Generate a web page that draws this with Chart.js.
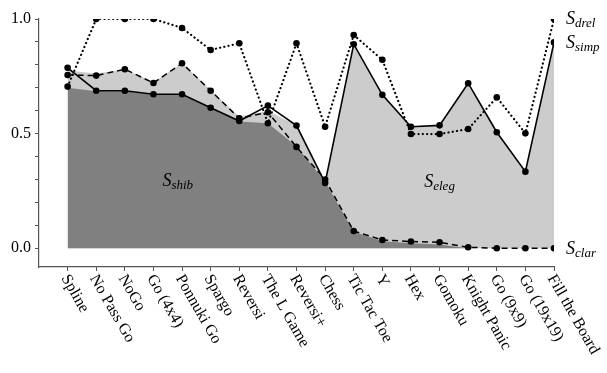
<!DOCTYPE html>
<html>
<head>
<meta charset="utf-8">
<script src="https://cdn.jsdelivr.net/npm/chart.js@4"></script>
<style>
  html, body { margin: 0; padding: 0; background: #fff; }
  #wrap { width: 607px; height: 373px; }
</style>
</head>
<body>
<div id="wrap"><canvas id="chart" width="607" height="373"></canvas></div>
<script>
// games along the x axis
const games = ['Spline', 'No Pass Go', 'NoGo', 'Go (4x4)', 'Ponnuki Go', 'Spargo', 'Reversi', 'The L Game',
  'Reversi+', 'Chess', 'Tic Tac Toe', 'Y', 'Hex', 'Gomoku', 'Knight Panic', 'Go (9x9)', 'Go (19x19)', 'Fill the Board'];

// measures
const drel = [0.705, 1.0, 1.0, 1.0, 0.961, 0.865, 0.894, 0.545, 0.894, 0.530, 0.930, 0.822, 0.498, 0.498, 0.520, 0.658, 0.501, 1.0];
const simp = [0.787, 0.687, 0.687, 0.672, 0.672, 0.613, 0.555, 0.622, 0.535, 0.285, 0.890, 0.669, 0.530, 0.536, 0.720, 0.506, 0.334, 0.898];
const clar = [0.756, 0.753, 0.781, 0.721, 0.807, 0.687, 0.567, 0.593, 0.442, 0.300, 0.075, 0.036, 0.029, 0.026, 0.004, 0.0, 0.0, 0.0];
const shib = [0.700, 0.685, 0.685, 0.670, 0.670, 0.612, 0.553, 0.545, 0.445, 0.290, 0.072, 0.030, 0.022, 0.016, 0.0, 0.0, 0.0, 0.0];
const eleg = [0.775, 0.762, 0.781, 0.725, 0.807, 0.690, 0.574, 0.600, 0.535, 0.290, 0.890, 0.669, 0.530, 0.536, 0.720, 0.506, 0.334, 0.898];

const yTicks = [0, 0.1, 0.2, 0.3, 0.4, 0.5, 0.6, 0.7, 0.8, 0.9, 1.0];
const yLabels = [0, 0.5, 1.0];

const serif = '"Liberation Serif", "DejaVu Serif", serif';

function pts(arr) {
  return arr.map((v, i) => ({ x: i, y: v }));
}

// draws the rotated game names and the S labels
const textPlugin = {
  id: 'texts',
  afterDraw(chart) {
    const ctx = chart.ctx;
    const xs = chart.scales.x;
    const ys = chart.scales.y;
    const bottom = chart.chartArea.bottom;
    ctx.save();
    ctx.fillStyle = '#000';
    ctx.font = '16px ' + serif;
    ctx.textAlign = 'left';
    ctx.textBaseline = 'middle';
    for (let i = 0; i < games.length; i++) {
      ctx.save();
      ctx.translate(xs.getPixelForValue(i) - 3, bottom + 9);
      ctx.rotate(Math.PI / 3);
      ctx.fillText(games[i], 0, 0);
      ctx.restore();
    }
    ctx.restore();

    function sLabel(sub, x, y, align) {
      ctx.save();
      ctx.fillStyle = '#000';
      ctx.textBaseline = 'alphabetic';
      ctx.font = 'italic 18px ' + serif;
      const w1 = ctx.measureText('S').width;
      ctx.font = 'italic 13px ' + serif;
      const w2 = ctx.measureText(sub).width;
      let left = x;
      if (align === 'center') left = x - (w1 + w2) / 2;
      ctx.font = 'italic 18px ' + serif;
      ctx.fillText('S', left, y);
      ctx.font = 'italic 13px ' + serif;
      ctx.fillText(sub, left + w1, y + 3);
      ctx.restore();
    }
    const last = games.length - 1;
    const rx = xs.getPixelForValue(last) + 12;
    sLabel('drel', rx, ys.getPixelForValue(drel[last]) + 5, 'left');
    sLabel('simp', rx, ys.getPixelForValue(simp[last]) + 6, 'left');
    sLabel('clar', rx, ys.getPixelForValue(clar[last]) + 6, 'left');
    sLabel('shib', xs.getPixelForValue(3.85), ys.getPixelForValue(0.27), 'center');
    sLabel('eleg', xs.getPixelForValue(13.0), ys.getPixelForValue(0.265), 'center');
  }
};

new Chart(document.getElementById('chart'), {
  type: 'line',
  data: {
    datasets: [
      {
        label: 'eleg', data: pts(eleg), order: 5,
        fill: 'origin', backgroundColor: '#cccccc', borderWidth: 0, pointRadius: 0, tension: 0
      },
      {
        label: 'shib', data: pts(shib), order: 4,
        fill: 'origin', backgroundColor: '#808080', borderWidth: 0, pointRadius: 0, tension: 0
      },
      {
        label: 'drel', data: pts(drel), order: 3,
        fill: false, borderColor: '#000', borderWidth: 2.2, borderDash: [0.1, 4.2], borderCapStyle: 'round',
        pointRadius: 3.3, pointBackgroundColor: '#000', pointBorderWidth: 0, tension: 0
      },
      {
        label: 'clar', data: pts(clar), order: 2,
        fill: false, borderColor: '#000', borderWidth: 1.5, borderDash: [6, 4],
        pointRadius: 3.3, pointBackgroundColor: '#000', pointBorderWidth: 0, tension: 0
      },
      {
        label: 'simp', data: pts(simp), order: 1,
        fill: false, borderColor: '#000', borderWidth: 1.6,
        pointRadius: 3.3, pointBackgroundColor: '#000', pointBorderWidth: 0, tension: 0
      }
    ]
  },
  options: {
    responsive: false,
    animation: false,
    events: [],
    layout: { padding: { top: 19, right: 53, left: 0, bottom: 0 } },
    plugins: { legend: { display: false }, tooltip: { enabled: false } },
    scales: {
      x: {
        type: 'linear',
        min: -1,
        max: games.length - 1,
        afterBuildTicks(scale) {
          scale.ticks = games.map((g, i) => ({ value: i }));
        },
        afterFit(scale) { scale.height = 106; },
        ticks: { display: false },
        grid: { drawOnChartArea: false, drawTicks: true, tickLength: 4, color: '#555', lineWidth: 1 },
        border: { display: true, color: '#555', width: 1.2 }
      },
      y: {
        type: 'linear',
        min: -0.082,
        max: 1.0,
        afterBuildTicks(scale) {
          scale.ticks = yTicks.map(v => ({ value: v }));
        },
        afterFit(scale) { scale.width = 39; },
        ticks: {
          color: '#000',
          padding: 4,
          font: { family: serif, size: 16 },
          callback(v) {
            return yLabels.some(t => Math.abs(t - v) < 1e-6) ? v.toFixed(1) : '';
          }
        },
        grid: { drawOnChartArea: false, drawTicks: true, tickLength: 4, color: '#555', lineWidth: 1 },
        border: { display: true, color: '#555', width: 1.2 }
      }
    }
  },
  plugins: [textPlugin]
});
</script>
</body>
</html>
